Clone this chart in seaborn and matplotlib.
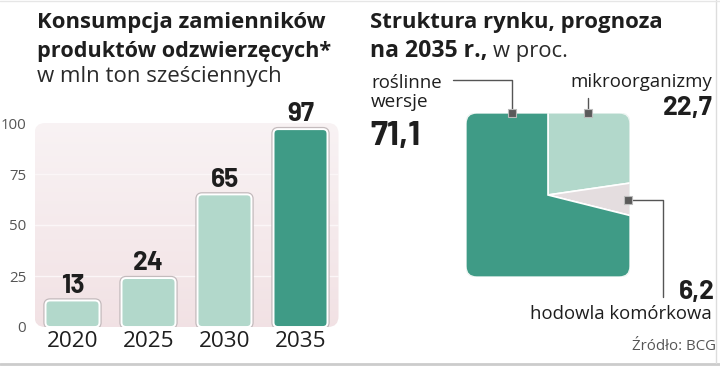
import matplotlib
matplotlib.use("Agg")
import matplotlib.pyplot as plt
import seaborn as sns
import numpy as np
import pandas as pd
from matplotlib.patches import FancyBboxPatch
import matplotlib.patheffects as pe

# ---- data ----
years = ["2020", "2025", "2030", "2035"]
consumption = [13, 24, 65, 97]
value_labels = ["13", "24", "65", "97"]
y_ticks = [0, 25, 50, 75, 100]

segments = ["mikroorganizmy", "hodowla komórkowa", "roślinne wersje"]
shares = [22.7, 6.2, 71.1]
share_labels = ["22,7", "6,2", "71,1"]

sns.set_theme(style="white")
plt.rcParams["font.family"] = ["Open Sans", "DejaVu Sans"]

W, H = 720, 366
fig = plt.figure(figsize=(W / 100, H / 100), dpi=100)
fig.patch.set_facecolor("white")
renderer = fig.canvas.get_renderer()

def fr(x0, y0, x1, y1):
    return [x0 / W, (H - y1) / H, (x1 - x0) / W, (y1 - y0) / H]

def fit(t, target_px):
    w = t.get_window_extent(renderer=renderer).width
    if w > 0:
        t.set_fontsize(t.get_fontsize() * target_px / w)
    return t

LIGHT = "#b2d8cb"
DARK = "#3f9b86"
GRAY = "#e4dddf"
TXT = "#1e1e1e"
BOLDNUM = ["Barlow", "DejaVu Sans"]
REG = ["Open Sans", "DejaVu Sans"]

# ---- bar chart ----
ax = fig.add_axes(fr(34.5, 123, 338.5, 327))
df = pd.DataFrame({"year": years, "value": consumption})
sns.barplot(data=df, x="year", y="value", ax=ax, width=0.71,
            palette=[LIGHT, LIGHT, LIGHT, DARK], hue="year", legend=False,
            saturation=1)
ax.set_xlim(-0.5, 3.5)
ax.set_ylim(0, 100)

bg = FancyBboxPatch((0, 0), 1, 1, boxstyle="round,pad=0,rounding_size=0.035",
                    mutation_aspect=304 / 204, transform=ax.transAxes,
                    facecolor="none", edgecolor="none", zorder=0)
ax.add_patch(bg)
grad = np.linspace(0, 1, 256).reshape(-1, 1)
top = np.array([0.975, 0.952, 0.957])
bot = np.array([0.948, 0.885, 0.895])
img = top + (bot - top) * grad[..., None]
im = ax.imshow(img, extent=[0, 1, 0, 1], transform=ax.transAxes, aspect="auto",
               zorder=0, origin="upper")
im.set_clip_path(bg)
ax.set_facecolor("none")
for yv in y_ticks[1:-1]:
    ax.axhline(yv, color="#fbf6f7", lw=1.0, zorder=0.5)

xu = 304 / 4
yu = 204 / 100
for p in list(ax.patches):
    if not isinstance(p, matplotlib.patches.Rectangle):
        continue
    x, y = p.get_x(), p.get_y()
    w, h = p.get_width(), p.get_height()
    fc = p.get_facecolor()
    rb = FancyBboxPatch((x, y), w, h, boxstyle="round,pad=0,rounding_size=0.06",
                        mutation_aspect=xu / yu, facecolor=fc, edgecolor="white",
                        lw=1.4, zorder=2)
    rb.set_path_effects([pe.Stroke(linewidth=3.2, foreground="#c4bbbd"), pe.Normal()])
    p.remove()
    ax.add_patch(rb)

probe = fig.text(0, 0, "97", fontsize=18, fontweight="bold", family=BOLDNUM)
fit(probe, 27)
bar_fs = probe.get_fontsize()
probe.remove()
for i, (v, lab) in enumerate(zip(consumption, value_labels)):
    ax.annotate(lab, (i, v), xytext=(0, 5.5), textcoords="offset points",
                ha="center", va="baseline", fontsize=bar_fs, fontweight="bold",
                family=BOLDNUM, color=TXT, annotation_clip=False)

probe = fig.text(0, 0, "2020", fontsize=13, family=REG)
fit(probe, 51)
year_fs = probe.get_fontsize()
probe.remove()
probe = fig.text(0, 0, "100", fontsize=10, family=REG)
fit(probe, 26)
ytick_fs = probe.get_fontsize()
probe.remove()

ax.set_yticks(y_ticks)
ax.set_yticklabels([str(t) for t in y_ticks])
ax.tick_params(axis="y", length=0, pad=6, labelsize=ytick_fs, labelcolor="#555555")
ax.tick_params(axis="x", length=0, pad=3, labelsize=year_fs, labelcolor=TXT)
ax.set_xlabel("")
ax.set_ylabel("")
for s in ax.spines.values():
    s.set_visible(False)

# ---- pie ----
pax = fig.add_axes(fr(466, 113, 630, 277))
wedges, _ = pax.pie(shares, colors=[LIGHT, GRAY, DARK], startangle=90,
                    counterclock=False, radius=1.6, center=(0, 0),
                    wedgeprops=dict(edgecolor="white", linewidth=1.2))
pax.set_xlim(-1, 1)
pax.set_ylim(-1, 1)
pax.set_aspect("equal")
pax.axis("off")
clip = FancyBboxPatch((-1, -1), 2, 2, boxstyle="round,pad=0,rounding_size=0.13",
                      transform=pax.transData, facecolor="none", edgecolor="none")
pax.add_patch(clip)
for w_ in wedges:
    w_.set_clip_on(True)
    w_.set_clip_path(clip)
outline = FancyBboxPatch((-1, -1), 2, 2, boxstyle="round,pad=0,rounding_size=0.13",
                         transform=pax.transData, facecolor="none",
                         edgecolor="#eef5f2", lw=1.0)
pax.add_patch(outline)

# ---- overlay text ----
ov = fig.add_axes([0, 0, 1, 1], zorder=10)
ov.set_xlim(0, W)
ov.set_ylim(H, 0)
ov.axis("off")
ov.patch.set_alpha(0)

TB = dict(fontsize=14, fontweight="bold", color=TXT, va="baseline", family=REG)
SUB = dict(fontsize=14, color="#2a2a2a", va="baseline", family=REG)
fit(ov.text(37, 28, "Konsumpcja zamienników", **TB), 290)
fit(ov.text(37, 57, "produktów odzwierzęcych*", **TB), 296)
fit(ov.text(37, 82, "w mln ton sześciennych", **SUB), 246)

fit(ov.text(370, 28, "Struktura rynku, prognoza", **TB), 294)
fit(ov.text(370, 57, "na 2035 r.,", **TB), 118)
fit(ov.text(493, 57, "w proc.", **SUB), 75)

LAB = dict(fontsize=13, color=TXT, va="baseline", family=REG)
NUM = dict(fontweight="bold", color=TXT, va="baseline", family=BOLDNUM)

fit(ov.text(371, 88, "roślinne", **LAB), 70)
fit(ov.text(371, 107, "wersje", **LAB), 57)
ov.text(370, 145, share_labels[2], fontsize=bar_fs * 1.3, **NUM)

fit(ov.text(712, 87, "mikroorganizmy", ha="right", **LAB), 141)
ov.text(713, 115, share_labels[0], fontsize=bar_fs, ha="right", **NUM)

ov.text(715, 299, share_labels[1], fontsize=bar_fs, ha="right", **NUM)
fit(ov.text(712, 319, "hodowla komórkowa", ha="right", **LAB), 181)
fit(ov.text(716, 350, "Źródło: BCG", ha="right", fontsize=10.5, color="#555555",
            va="baseline", family=REG), 84)

LC = "#555555"
ov.plot([453, 512, 512], [80, 80, 113], color=LC, lw=1)
ov.plot([588, 588], [98, 113], color=LC, lw=1)
ov.plot([628, 663, 663], [200, 200, 297], color=LC, lw=1)
for (mx, my) in [(512, 113), (588, 113), (628, 200)]:
    ov.plot([mx], [my], marker="s", ms=6, color="#5a5a5a", mec="#bbbbbb", mew=0.8)

ov.plot([0, W], [363.5, 363.5], color="#cccccc", lw=2)
ov.plot([716, 716], [0, 363], color="#dddddd", lw=1)
ov.plot([0, W], [0.5, 0.5], color="#e6e6e6", lw=1)

fig.savefig("out.png", dpi=100, facecolor="white")
